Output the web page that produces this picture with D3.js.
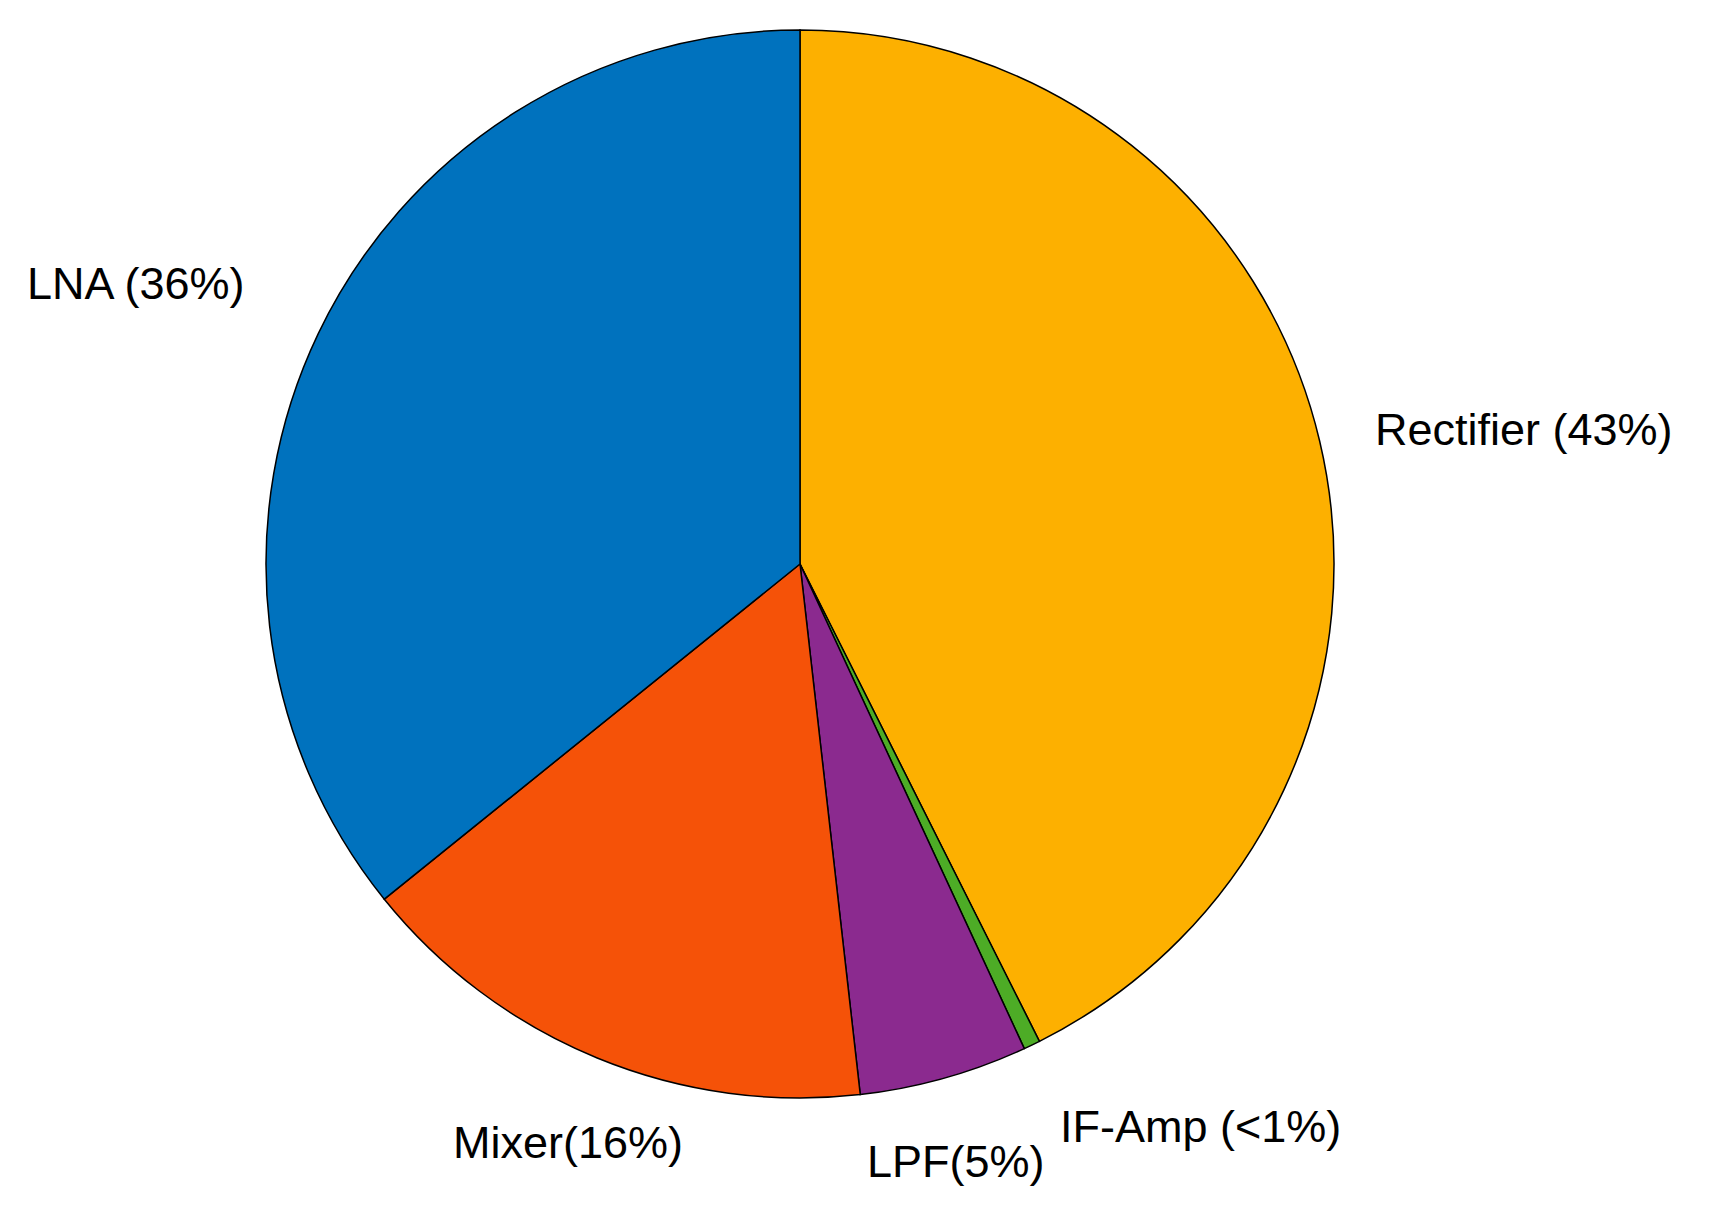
<!DOCTYPE html><html><head><meta charset="utf-8">
<script src="https://cdn.jsdelivr.net/npm/d3@7"></script>
<style>body{margin:0;background:#fff}</style></head><body>
<script>
const categories=["Rectifier","IF-Amp","LPF","Mixer","LNA"];
const values=[42.6,0.5,5.1,16,35.8];
const labels=["Rectifier (43%)","IF-Amp (<1%)","LPF(5%)","Mixer(16%)","LNA (36%)"];
const colors=["#FDB000","#4DAC26","#8B2A8F","#F55208","#0072BE"];
const labelPos=[[1375,445],[1060,1142],[867,1177],[453,1158],[27,299]];
const W=1721,H=1219,cx=800,cy=564,R=534;
const svg=d3.select("body").append("svg").attr("width",W).attr("height",H);
const pie=d3.pie().sort(null).value(d=>d)(values);
const arc=d3.arc().innerRadius(0).outerRadius(R);
const g=svg.append("g").attr("transform",`translate(${cx},${cy})`);
g.selectAll("path").data(pie).join("path").attr("d",arc)
 .attr("fill",(d,i)=>colors[i]).attr("stroke","#000").attr("stroke-width",1.5);
svg.selectAll("text.l").data(labels).join("text").attr("class","l")
 .attr("x",(d,i)=>labelPos[i][0]).attr("y",(d,i)=>labelPos[i][1])
 .attr("font-family","Liberation Sans, Arial, sans-serif").attr("font-size",45)
 .attr("fill","#000").text(d=>d);
</script></body></html>
